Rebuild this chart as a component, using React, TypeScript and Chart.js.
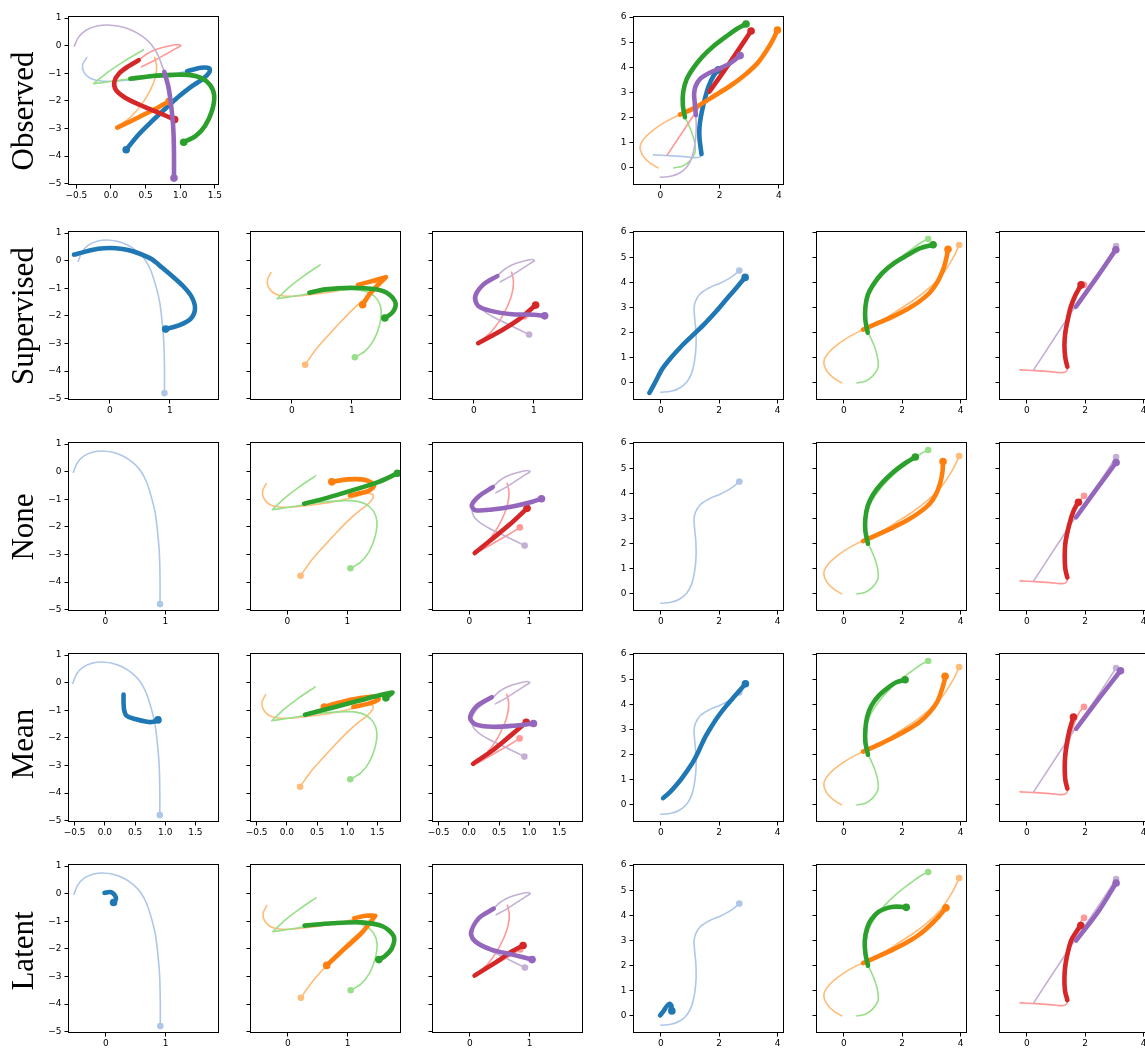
import React, { useEffect, useRef } from "react";
import { Chart, registerables } from "chart.js";
Chart.register(...registerables);

type Pt = [number, number];

// ---------- ground-truth trajectories, left group ----------
const gtA: Pt[] = [[-0.53, -0.02], [-0.47, 0.3], [-0.36, 0.56], [-0.2, 0.71], [-0.05, 0.75], [0.12, 0.7], [0.3, 0.56], [0.46, 0.33], [0.58, 0.05], [0.68, -0.35], [0.77, -0.95], [0.83, -1.5], [0.87, -2.2], [0.9, -3.0], [0.91, -3.9], [0.91, -4.8]];
const gtB: Pt[] = [[-0.35, -0.43], [-0.41, -0.7], [-0.39, -0.97], [-0.3, -1.18], [-0.14, -1.28], [0.1, -1.28], [0.4, -1.21], [0.75, -1.1], [1.1, -0.93], [1.3, -0.8], [1.42, -0.82], [1.42, -0.97], [1.33, -1.2], [1.18, -1.45], [1.0, -1.8], [0.8, -2.25], [0.6, -2.72], [0.4, -3.22], [0.22, -3.77]];
const gtC: Pt[] = [[0.47, -0.15], [0.2, -0.55], [-0.04, -0.95], [-0.25, -1.38], [-0.25, -1.38], [0.0, -1.3], [0.28, -1.2], [0.6, -1.1], [0.9, -1.06], [1.12, -1.06], [1.3, -1.17], [1.43, -1.42], [1.49, -1.8], [1.46, -2.35], [1.36, -2.9], [1.22, -3.28], [1.05, -3.5]];
const gtD: Pt[] = [[0.63, -0.42], [0.66, -0.75], [0.64, -1.15], [0.57, -1.6], [0.45, -2.1], [0.3, -2.55], [0.15, -2.85], [0.09, -2.97], [0.09, -2.97], [0.3, -2.72], [0.5, -2.47], [0.68, -2.24], [0.84, -2.02]];
const gtE: Pt[] = [[0.44, -0.77], [0.62, -0.55], [0.8, -0.3], [0.94, -0.1], [1.01, 0.0], [0.97, 0.04], [0.82, -0.02], [0.64, -0.15], [0.5, -0.33], [0.4, -0.53], [0.25, -0.75], [0.12, -1.0], [0.05, -1.3], [0.07, -1.6], [0.2, -1.88], [0.42, -2.15], [0.68, -2.42], [0.92, -2.68]];

// ---------- ground-truth trajectories, right group ----------
const gtA2: Pt[] = [[0.0, -0.37], [0.35, -0.33], [0.65, -0.2], [0.9, 0.05], [1.06, 0.4], [1.16, 0.9], [1.21, 1.5], [1.2, 2.1], [1.16, 2.6], [1.14, 2.95], [1.19, 3.25], [1.35, 3.55], [1.65, 3.78], [2.05, 3.98], [2.4, 4.2], [2.69, 4.47]];
const gtB2: Pt[] = [[-0.07, 0.0], [-0.35, 0.2], [-0.58, 0.48], [-0.68, 0.85], [-0.52, 1.2], [-0.15, 1.58], [0.25, 1.88], [0.66, 2.12], [1.2, 2.42], [1.8, 2.85], [2.4, 3.3], [2.9, 3.75], [3.3, 4.2], [3.6, 4.7], [3.82, 5.15], [3.95, 5.49]];
const gtC2: Pt[] = [[0.45, 0.0], [0.72, 0.06], [0.97, 0.25], [1.17, 0.6], [1.16, 1.0], [1.05, 1.45], [0.92, 1.8], [0.83, 2.02], [0.76, 2.5], [0.77, 3.0], [0.88, 3.5], [1.1, 3.95], [1.4, 4.4], [1.8, 4.85], [2.3, 5.3], [2.6, 5.55], [2.89, 5.73]];
const gtD2: Pt[] = [[-0.23, 0.52], [0.3, 0.49], [0.8, 0.45], [1.15, 0.41], [1.32, 0.43], [1.39, 0.55], [1.36, 0.8], [1.32, 1.2], [1.32, 1.6], [1.37, 2.05], [1.48, 2.65], [1.63, 3.25], [1.8, 3.68], [1.96, 3.9]];
const gtE2: Pt[] = [[0.23, 0.51], [1.66, 3.04], [2.35, 4.2], [3.06, 5.45]];

// index where the observed (bold) part starts in the "Observed" row
const obsSplitLeft = { A: 10, B: 8, C: 6, D: 8, E: 9 };
const obsSplitRight = { A: 7, B: 7, C: 7, D: 5, E: 1 };

// ---------- predictions, left group (rows Supervised, None, Mean, Latent) ----------
const predBlueL: Pt[][] = [
  [[-0.6, 0.22], [-0.45, 0.3], [-0.3, 0.39], [-0.1, 0.45], [0.1, 0.45], [0.3, 0.39], [0.5, 0.25], [0.7, 0.05], [0.88, -0.27], [1.05, -0.58], [1.22, -0.92], [1.36, -1.3], [1.42, -1.72], [1.35, -2.1], [1.15, -2.35], [0.93, -2.48]],
  [],
  [[0.31, -0.43], [0.31, -0.72], [0.32, -1.0], [0.36, -1.2], [0.5, -1.32], [0.7, -1.42], [0.8, -1.42], [0.88, -1.35]],
  [[-0.02, 0.03], [0.08, 0.06], [0.15, -0.05], [0.17, -0.2], [0.13, -0.32]],
];
const predOrangeL: Pt[][] = [
  [[1.1, -0.88], [1.32, -0.75], [1.57, -0.6], [1.57, -0.6], [1.45, -0.85], [1.3, -1.2], [1.18, -1.6]],
  [[1.04, -0.86], [1.34, -0.71], [1.44, -0.5], [1.3, -0.3], [1.0, -0.28], [0.74, -0.37]],
  [[1.1, -0.88], [1.35, -0.76], [1.52, -0.6], [1.45, -0.5], [1.1, -0.6], [0.8, -0.76], [0.62, -0.88]],
  [[1.11, -0.89], [1.3, -0.8], [1.46, -0.8], [1.46, -0.8], [1.23, -1.43], [0.93, -2.03], [0.65, -2.6]],
];
const predGreenL: Pt[][] = [
  [[0.29, -1.16], [0.56, -1.04], [0.98, -0.98], [1.4, -1.04], [1.62, -1.22], [1.73, -1.55], [1.68, -1.87], [1.55, -2.08]],
  [[0.28, -1.16], [0.66, -0.95], [1.09, -0.67], [1.52, -0.37], [1.83, -0.06]],
  [[0.3, -1.16], [0.8, -0.88], [1.2, -0.65], [1.55, -0.45], [1.75, -0.36], [1.75, -0.36], [1.7, -0.45], [1.64, -0.55]],
  [[0.28, -1.16], [0.75, -1.07], [1.23, -1.04], [1.59, -1.19], [1.77, -1.55], [1.74, -1.97], [1.62, -2.27], [1.52, -2.39]],
];
const predRedL: Pt[][] = [
  [[0.07, -2.99], [0.46, -2.53], [0.76, -2.11], [1.03, -1.61]],
  [[0.09, -2.95], [0.38, -2.44], [0.68, -1.9], [0.96, -1.33]],
  [[0.07, -2.94], [0.39, -2.46], [0.69, -1.92], [0.95, -1.44]],
  [[0.08, -2.97], [0.42, -2.51], [0.71, -2.09], [0.89, -1.88]],
];
const predPurpleL: Pt[][] = [
  [[0.39, -0.56], [0.16, -0.86], [0.02, -1.3], [0.07, -1.64], [0.28, -1.82], [0.64, -1.94], [1.0, -1.96], [1.18, -2.0]],
  [[0.39, -0.56], [0.16, -0.89], [0.04, -1.22], [0.1, -1.4], [0.38, -1.37], [0.74, -1.25], [1.05, -1.09], [1.2, -0.98]],
  [[0.38, -0.53], [0.13, -0.85], [0.02, -1.26], [0.1, -1.5], [0.39, -1.6], [0.75, -1.56], [1.07, -1.48]],
  [[0.4, -0.54], [0.15, -0.89], [0.02, -1.43], [0.09, -1.73], [0.36, -2.03], [0.71, -2.21], [1.04, -2.39]],
];

// ---------- predictions, right group ----------
const predBlueR: Pt[][] = [
  [[-0.39, -0.4], [-0.2, 0.0], [0.05, 0.55], [0.35, 1.0], [0.7, 1.45], [1.1, 1.9], [1.5, 2.35], [1.9, 2.85], [2.3, 3.4], [2.6, 3.8], [2.89, 4.2]],
  [],
  [[0.08, 0.27], [0.35, 0.55], [0.65, 0.95], [0.9, 1.35], [1.1, 1.7], [1.3, 2.15], [1.5, 2.65], [1.7, 3.05], [1.95, 3.5], [2.25, 3.95], [2.55, 4.35], [2.9, 4.82]],
  [[-0.02, 0.02], [0.1, 0.2], [0.2, 0.38], [0.3, 0.48], [0.37, 0.4], [0.35, 0.28], [0.38, 0.2]],
];
const predOrangeR: Pt[][] = [
  [[0.66, 2.12], [1.2, 2.4], [1.7, 2.65], [2.2, 2.95], [2.6, 3.25], [2.95, 3.6], [3.2, 4.0], [3.4, 4.5], [3.5, 4.9], [3.57, 5.32]],
  [[0.66, 2.1], [1.2, 2.38], [1.7, 2.65], [2.2, 2.95], [2.6, 3.25], [2.95, 3.6], [3.15, 3.95], [3.3, 4.4], [3.38, 4.85], [3.4, 5.27]],
  [[0.66, 2.12], [1.2, 2.4], [1.7, 2.68], [2.2, 3.0], [2.6, 3.3], [2.95, 3.7], [3.2, 4.1], [3.35, 4.55], [3.45, 4.95], [3.47, 5.12]],
  [[0.66, 2.1], [1.2, 2.38], [1.7, 2.65], [2.2, 2.95], [2.6, 3.25], [2.95, 3.6], [3.25, 3.95], [3.5, 4.3]],
];
const predGreenR: Pt[][] = [
  [[0.82, 2.0], [0.74, 2.5], [0.74, 3.0], [0.82, 3.5], [1.0, 3.9], [1.3, 4.35], [1.7, 4.75], [2.2, 5.1], [2.6, 5.35], [3.06, 5.5]],
  [[0.83, 2.0], [0.74, 2.5], [0.74, 3.0], [0.82, 3.5], [1.0, 3.95], [1.3, 4.4], [1.7, 4.85], [2.1, 5.2], [2.45, 5.45]],
  [[0.83, 2.0], [0.74, 2.5], [0.74, 3.0], [0.8, 3.5], [0.95, 3.95], [1.2, 4.35], [1.5, 4.65], [1.8, 4.88], [2.1, 4.98]],
  [[0.83, 2.0], [0.74, 2.5], [0.72, 3.0], [0.8, 3.5], [0.95, 3.85], [1.2, 4.15], [1.5, 4.3], [1.8, 4.35], [2.14, 4.32]],
];
const predRedR: Pt[][] = [
  [[1.39, 0.64], [1.32, 1.0], [1.29, 1.5], [1.32, 2.0], [1.4, 2.5], [1.5, 3.0], [1.65, 3.45], [1.86, 3.9]],
  [[1.39, 0.65], [1.32, 1.0], [1.3, 1.5], [1.32, 2.0], [1.4, 2.5], [1.5, 2.95], [1.62, 3.35], [1.77, 3.65]],
  [[1.39, 0.65], [1.32, 1.0], [1.3, 1.5], [1.32, 2.0], [1.38, 2.5], [1.47, 3.0], [1.6, 3.5]],
  [[1.39, 0.63], [1.31, 1.0], [1.29, 1.5], [1.32, 2.0], [1.4, 2.5], [1.52, 3.0], [1.7, 3.35], [1.85, 3.6]],
];
const predPurpleR: Pt[][] = [
  [[1.68, 3.03], [2.4, 4.2], [3.05, 5.3]],
  [[1.69, 3.05], [2.4, 4.19], [3.06, 5.23]],
  [[1.69, 3.03], [2.46, 4.22], [3.21, 5.34]],
  [[1.69, 3.0], [2.46, 4.17], [3.06, 5.29]],
];

// ---------- labels, ticks, ranges ----------
const rowLabels = ["Observed", "Supervised", "None", "Mean", "Latent"];
const leftYTicks = [1, 0, -1, -2, -3, -4, -5];
const rightYTicks = [0, 1, 2, 3, 4, 5, 6];
const rightXTicks = [0, 2, 4];
const leftXTicksFine = [-0.5, 0, 0.5, 1, 1.5];
const leftXTicksCoarse = [0, 1];
const leftXTicksByRow = [leftXTicksFine, leftXTicksCoarse, leftXTicksCoarse, leftXTicksFine, leftXTicksCoarse];
const leftXDecimalsByRow = [1, 0, 0, 1, 0];
const leftXRangeByRow: Pt[] = [[-0.62, 1.56], [-0.7, 1.82], [-0.62, 1.89], [-0.61, 1.89], [-0.63, 1.89]];
const leftYRange: Pt = [-5.05, 1.06];
const rightXRangeByRow: Pt[] = [[-0.92, 4.17], [-0.95, 4.22], [-0.95, 4.22], [-0.95, 4.22], [-0.95, 4.22]];
const rightYRange: Pt = [-0.68, 6.03];

// ---------- styling / layout ----------
type CName = "blue" | "orange" | "green" | "red" | "purple";
const COL: Record<CName, string> = { blue: "#1f77b4", orange: "#ff7f0e", green: "#2ca02c", red: "#d62728", purple: "#9467bd" };
const LIGHT: Record<CName, string> = { blue: "#aec7e8", orange: "#ffbb78", green: "#98df8a", red: "#ff9896", purple: "#c5b0d5" };
const colLeft = [68, 250, 432, 633, 816, 999];
const rowTop = [16, 231, 442, 653, 864];
const PW = 151;
const PH = 169;
const PAD_L = 40, PAD_R = 12, PAD_T = 8, PAD_B = 26;
const TICK_FONT = "'DejaVu Sans', sans-serif";

type Series = { pts: Pt[]; color: string; width: number; dotR: number };
type PanelSpec = {
  key: string; row: number; col: number;
  xr: Pt; yr: Pt; xTicks: number[]; yTicks: number[]; xDec: number; showY: boolean;
  series: Series[];
};

const fmt = (v: number, d: number) => (v < 0 ? "\u2212" : "") + Math.abs(v).toFixed(d);

const light = (pts: Pt[], c: string): Series => ({ pts, color: c, width: 1.6, dotR: 3.3 });
const bold = (pts: Pt[], c: string): Series => ({ pts, color: c, width: 4.6, dotR: 3.8 });

function observedPanel(items: { gt: Pt[]; k: number; c: CName }[]): Series[] {
  const lights: Series[] = items.map((it) => ({ pts: it.gt.slice(0, it.k + 1), color: LIGHT[it.c], width: 1.6, dotR: 0 }));
  const dots: Series[] = items.map((it) => ({ pts: [it.gt[it.gt.length - 1]], color: LIGHT[it.c], width: 0, dotR: 3.3 }));
  const bolds: Series[] = items.map((it) => bold(it.gt.slice(it.k), COL[it.c]));
  return [...lights, ...dots, ...bolds];
}

function buildSpecs(): PanelSpec[] {
  const specs: PanelSpec[] = [];
  const mk = (row: number, col: number, series: Series[]): PanelSpec => {
    const left = col < 3;
    return {
      key: `${row}-${col}`, row, col,
      xr: left ? leftXRangeByRow[row] : rightXRangeByRow[row],
      yr: left ? leftYRange : rightYRange,
      xTicks: left ? leftXTicksByRow[row] : rightXTicks,
      yTicks: left ? leftYTicks : rightYTicks,
      xDec: left ? leftXDecimalsByRow[row] : 0,
      showY: col === 0 || col === 3,
      series,
    };
  };
  const sL = obsSplitLeft, sR = obsSplitRight;
  specs.push(mk(0, 0, observedPanel([
    { gt: gtB, k: sL.B, c: "blue" },
    { gt: gtD, k: sL.D, c: "orange" },
    { gt: gtC, k: sL.C, c: "green" },
    { gt: gtE, k: sL.E, c: "red" },
    { gt: gtA, k: sL.A, c: "purple" },
  ])));
  specs.push(mk(0, 3, observedPanel([
    { gt: gtD2, k: sR.D, c: "blue" },
    { gt: gtB2, k: sR.B, c: "orange" },
    { gt: gtC2, k: sR.C, c: "green" },
    { gt: gtE2, k: sR.E, c: "red" },
    { gt: gtA2, k: sR.A, c: "purple" },
  ])));

  for (let r = 1; r <= 4; r++) {
    const i = r - 1;
    specs.push(mk(r, 0, [light(gtA, LIGHT.blue), bold(predBlueL[i], COL.blue)]));
    specs.push(mk(r, 1, [light(gtB, LIGHT.orange), light(gtC, LIGHT.green), bold(predOrangeL[i], COL.orange), bold(predGreenL[i], COL.green)]));
    specs.push(mk(r, 2, [light(gtD, LIGHT.red), light(gtE, LIGHT.purple), bold(predRedL[i], COL.red), bold(predPurpleL[i], COL.purple)]));
    specs.push(mk(r, 3, [light(gtA2, LIGHT.blue), bold(predBlueR[i], COL.blue)]));
    specs.push(mk(r, 4, [light(gtB2, LIGHT.orange), light(gtC2, LIGHT.green), bold(predOrangeR[i], COL.orange), bold(predGreenR[i], COL.green)]));
    specs.push(mk(r, 5, [light(gtD2, LIGHT.red), light(gtE2, LIGHT.purple), bold(predRedR[i], COL.red), bold(predPurpleR[i], COL.purple)]));
  }
  return specs;
}

const framePlugin = {
  id: "frame",
  afterDraw(chart: any) {
    const { ctx, chartArea: a } = chart;
    ctx.save();
    ctx.strokeStyle = "#000";
    ctx.lineWidth = 1;
    const x0 = Math.round(a.left) + 0.5, y0 = Math.round(a.top) + 0.5;
    const x1 = Math.round(a.right) - 0.5, y1 = Math.round(a.bottom) - 0.5;
    ctx.strokeRect(x0, y0, x1 - x0, y1 - y0);
    ctx.restore();
  },
};

function Panel({ spec }: { spec: PanelSpec }) {
  const ref = useRef<HTMLCanvasElement>(null);
  useEffect(() => {
    if (!ref.current) return;
    const ds: any[] = [];
    for (const s of spec.series) {
      if (s.pts.length === 0) continue;
      if (s.width > 0 && s.pts.length > 1) {
        ds.push({
          type: "scatter",
          data: s.pts.map(([x, y]) => ({ x, y })),
          showLine: true,
          borderColor: s.color,
          backgroundColor: s.color,
          borderWidth: s.width,
          pointRadius: 0,
          pointHoverRadius: 0,
          tension: 0.3,
          borderCapStyle: "round",
          borderJoinStyle: "round",
          fill: false,
          clip: 0,
        });
      }
      if (s.dotR > 0) {
        const [x, y] = s.pts[s.pts.length - 1];
        ds.push({
          type: "scatter",
          data: [{ x, y }],
          showLine: false,
          pointRadius: s.dotR,
          pointHoverRadius: s.dotR,
          backgroundColor: s.color,
          borderColor: s.color,
          pointBorderWidth: 0,
          borderWidth: 0,
          clip: 0,
        });
      }
    }
    ds.reverse(); // first dataset is drawn on top in Chart.js
    const axis = (ticks: number[], range: Pt, labelFn: (v: number) => string, isX: boolean) => ({
      type: "linear",
      min: range[0],
      max: range[1],
      afterBuildTicks: (sc: any) => {
        sc.ticks = ticks.map((v) => ({ value: v }));
      },
      afterFit: (sc: any) => {
        if (isX) sc.height = PAD_B;
        else sc.width = PAD_L;
      },
      grid: { display: true, drawOnChartArea: false, drawTicks: true, tickLength: 3.5, tickWidth: 1, tickColor: "#000", color: "#000" },
      border: { display: false },
      ticks: {
        autoSkip: false,
        maxRotation: 0,
        minRotation: 0,
        padding: isX ? 2 : 3,
        color: "#000",
        font: { family: TICK_FONT, size: 9 },
        callback: (v: any) => labelFn(Number(v)),
      },
    });
    const chart = new Chart(ref.current, {
      type: "scatter",
      data: { datasets: ds },
      options: {
        responsive: false,
        animation: false,
        devicePixelRatio: 1,
        events: [],
        layout: { padding: { top: PAD_T, right: PAD_R, left: 0, bottom: 0 } },
        plugins: { legend: { display: false }, tooltip: { enabled: false } },
        scales: {
          x: axis(spec.xTicks, spec.xr, (v) => fmt(v, spec.xDec), true) as any,
          y: axis(spec.yTicks, spec.yr, (v) => (spec.showY ? fmt(v, 0) : ""), false) as any,
        },
      },
      plugins: [framePlugin],
    } as any);
    return () => chart.destroy();
  }, [spec]);
  const W = PAD_L + PW + PAD_R, H = PAD_T + PH + PAD_B;
  return (
    <canvas
      ref={ref}
      width={W}
      height={H}
      style={{ position: "absolute", left: colLeft[spec.col] - PAD_L, top: rowTop[spec.row] - PAD_T, width: W, height: H }}
    />
  );
}

const specs = buildSpecs();
const labelCenterOffset = [10, 0, 0, 6, 2];

export default function App() {
  return (
    <div style={{ position: "absolute", left: 0, top: 0, width: 1145, height: 1059, overflow: "hidden", background: "#fff" }}>
      {specs.map((s) => (
        <Panel key={s.key} spec={s} />
      ))}
      {rowLabels.map((t, r) => (
        <div
          key={t}
          style={{
            position: "absolute",
            left: 22,
            top: rowTop[r] + PH / 2 + labelCenterOffset[r],
            transform: "translate(-50%, -50%) rotate(-90deg)",
            fontFamily: "'Liberation Serif', 'Times New Roman', serif",
            fontSize: 31,
            lineHeight: "31px",
            whiteSpace: "nowrap",
            color: "#000",
          }}
        >
          {t}
        </div>
      ))}
    </div>
  );
}
